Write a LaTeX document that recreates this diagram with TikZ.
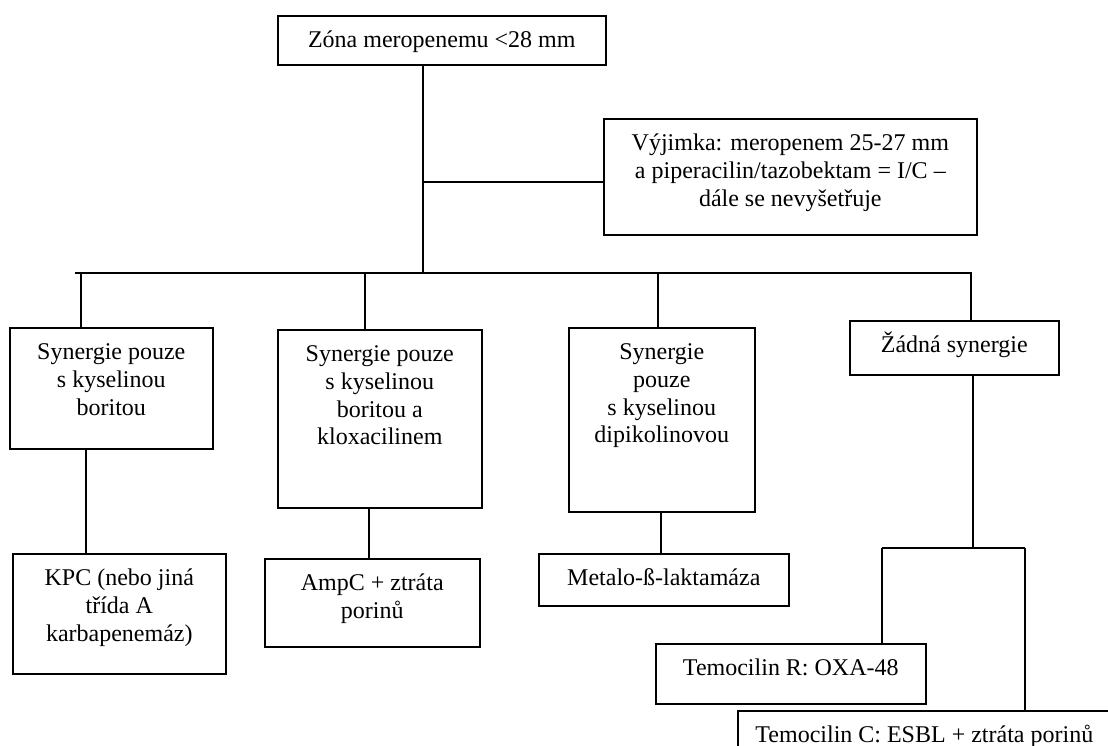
\documentclass[tikz,border=0pt]{standalone}
\usepackage{fontspec}
\setmainfont{Liberation Serif}
\newcommand\bt[3]{\begin{minipage}[t][#2][t]{#1}\centering\fontsize{12pt}{13.8pt}\selectfont\rule{0pt}{16pt}#3\end{minipage}}
\tikzset{
  box/.style={draw, line width=0.8pt, inner sep=0pt, anchor=north west},
  ln/.style={line width=0.8pt}
}
\begin{document}
\begin{tikzpicture}[x=0.5pt,y=-0.5pt]
\fill[white] (0,0) rectangle (1108,745);
\useasboundingbox (0,0) rectangle (1108,745);
\clip (0,0) rectangle (1108,745);
% boxes
\node[box] (top) at (277,15) {\bt{164pt}{24.5pt}{Zóna meropenemu <28 mm}};
\node[box] (exc) at (603,118) {\bt{186.5pt}{58pt}{Výjimka: meropenem 25-27 mm\\a piperacilin/tazobektam = I/C –\\dále se nevyšetřuje}};
\node[box] (b1) at (9,327) {\bt{101.5pt}{60.5pt}{Synergie pouze\\s kyselinou\\boritou}};
\node[box] (b2) at (277,329) {\bt{102pt}{89pt}{Synergie pouze\\s kyselinou\\boritou a\\kloxacilinem}};
\node[box] (b3) at (568,327) {\bt{93pt}{92pt}{Synergie\\pouze\\s kyselinou\\dipikolinovou}};
\node[box] (b4) at (849,320) {\bt{104.5pt}{27pt}{Žádná synergie}};
\node[box] (kpc) at (12,553) {\bt{106.5pt}{60pt}{KPC (nebo jiná\\třída A\\karbapenemáz)}};
\node[box] (ampc) at (264,558) {\bt{107.5pt}{44pt}{AmpC + ztráta\\porinů}};
\node[box] (mbl) at (538,553) {\bt{125pt}{26pt}{Metalo-ß-laktamáza}};
\node[box] (temr) at (655,643) {\bt{135pt}{30pt}{Temocilin R: OXA-48}};
\node[box] (temc) at (737,710) {\bt{186.5pt}{30pt}{Temocilin C: ESBL + ztráta porinů}};
% junction coordinates
\coordinate (mj) at (423,273);
\coordinate (mx) at (423,182);
\coordinate (busL) at (75,273);
\coordinate (busR) at (972,273);
\coordinate (d1) at (81,273);
\coordinate (d2) at (365,273);
\coordinate (d3) at (658,273);
\coordinate (d4) at (971,273);
\coordinate (e1) at (86,0);
\coordinate (e2) at (369,0);
\coordinate (e3) at (661,0);
\coordinate (sbm) at (973,548);
\coordinate (sbL) at (882,548);
\coordinate (sbR) at (1025,548);
% connectors
\draw[ln] (top.south -| mj) -- (mj);
\draw[ln] (mx) -- (exc.west |- mx);
\draw[ln] (busL) -- (busR);
\draw[ln] (d1) -- (b1.north -| d1);
\draw[ln] (d2) -- (b2.north -| d2);
\draw[ln] (d3) -- (b3.north -| d3);
\draw[ln] (d4) -- (b4.north -| d4);
\draw[ln] (b1.south -| e1) -- (kpc.north -| e1);
\draw[ln] (b2.south -| e2) -- (ampc.north -| e2);
\draw[ln] (b3.south -| e3) -- (mbl.north -| e3);
\draw[ln] (b4.south -| sbm) -- (sbm);
\draw[ln] (sbL) -- (sbR);
\draw[ln] (sbL) -- (temr.north -| sbL);
\draw[ln] (sbR) -- (temc.north -| sbR);
\end{tikzpicture}
\end{document}
